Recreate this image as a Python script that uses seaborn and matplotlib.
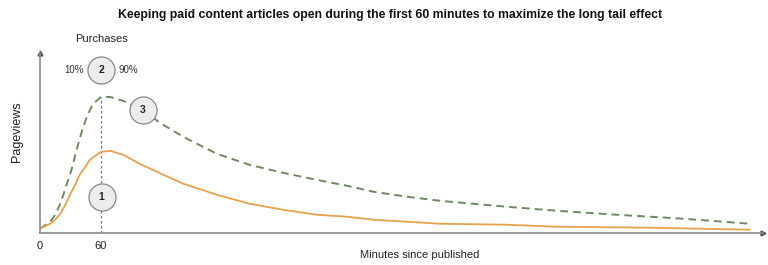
import matplotlib
matplotlib.use("Agg")
import matplotlib.pyplot as plt
import seaborn as sns
import pandas as pd

# ---- data ----
open_minutes = [0, 10, 15, 19, 23, 31, 36, 41, 46, 52, 60, 69, 82, 101, 118, 141, 174, 206, 239,
                272, 302, 328, 361, 393, 426, 459, 508, 567, 633, 698]
open_pageviews = [4, 11, 18, 27, 38, 63, 83, 101, 116, 129, 136, 136, 132, 123, 110, 96, 79, 68, 60,
                  53, 47, 41, 36, 32, 29, 26, 22, 18, 14, 9]
paid_minutes = [0, 10, 15, 20, 25, 30, 35, 39, 44, 49, 60, 69, 82, 98, 115, 141, 174, 206, 239,
                272, 302, 328, 393, 459, 508, 600, 698]
paid_pageviews = [4, 9, 13, 19, 28, 39, 49, 58, 65, 73, 81, 82, 78, 69, 61, 49, 38, 29, 23,
                  18, 16, 13, 9, 8, 6, 5, 3]
tick_values = [0, 60]
tick_labels = ["0", "60"]
circle_labels = ["1", "2", "3"]
title = "Keeping paid content articles open during the first 60 minutes to maximize the long tail effect"

sns.set_theme(style="white")
plt.rcParams["font.family"] = ["Liberation Sans", "DejaVu Sans"]

df_open = pd.DataFrame({"minutes": open_minutes, "pageviews": open_pageviews})
df_paid = pd.DataFrame({"minutes": paid_minutes, "pageviews": paid_pageviews})

fig = plt.figure(figsize=(7.68, 2.65), dpi=100)
ax = fig.add_axes([40 / 768, 1 - 232.7 / 265, (763 - 40) / 768, (232.7 - 53) / 265])

green = "#6f8a62"
orange = "#e6a24a"
axis_gray = "#8a8a8a"

sns.lineplot(data=df_open, x="minutes", y="pageviews", ax=ax, color=green, lw=1.4)
ax.lines[-1].set_dashes((4, 2.6))
sns.lineplot(data=df_paid, x="minutes", y="pageviews", ax=ax, color=orange, lw=1.3)
for ln in ax.lines:
    ln.set_solid_joinstyle("round")
    ln.set_dash_joinstyle("round")

ax.set_xlim(0, 711)
ax.set_ylim(0, 180)

# dotted marker at 60 minutes up to the open curve
peak60 = open_pageviews[open_minutes.index(60)]
ax.plot([60, 60], [0, peak60], color="#777777", lw=0.9, ls=(0, (2, 2)), zorder=1)

# spines and arrows
for s in ["top", "right"]:
    ax.spines[s].set_visible(False)
for s in ["left", "bottom"]:
    ax.spines[s].set_color(axis_gray)
    ax.spines[s].set_linewidth(1.2)
ax.plot(1, 0, ">", color="#555555", ms=3.5, transform=ax.get_yaxis_transform(), clip_on=False)
ax.plot(0, 1, "^", color="#555555", ms=3.5, transform=ax.get_xaxis_transform(), clip_on=False)

ax.set_xticks(tick_values)
ax.set_xticklabels(tick_labels, fontsize=8, color="#222222")
ax.tick_params(axis="x", length=0, pad=6)
ax.set_yticks([])
ax.set_xlabel("")
ax.set_ylabel("")

# circles with numbers
circ_pos = [(60.7, 35.4), (60, 163.4), (101, 122.7)]
for (cx, cy), lab in zip(circ_pos, circle_labels):
    ax.scatter([cx], [cy], s=380, facecolor="#ececec", edgecolor="#888888", linewidth=0.9,
               zorder=5, clip_on=False)
    ax.text(cx, cy, lab, ha="center", va="center", fontsize=7.5, fontweight="bold",
            color="#222222", zorder=6)

ax.text(33.4, 163.4, "10%", ha="center", va="center", fontsize=7, color="#333333")
ax.text(86.5, 163.4, "90%", ha="center", va="center", fontsize=7, color="#333333")
ax.text(60, 194.4, "Purchases", ha="center", va="center", fontsize=8, color="#222222",
        clip_on=False)

fig.text(390 / 768, 1 - 15 / 265, title, ha="center", va="center", fontsize=8.8,
         fontweight="bold", color="#111111")
fig.text(420 / 768, 1 - 255 / 265, "Minutes since published", ha="center", va="center",
         fontsize=8, color="#222222")
fig.text(17 / 768, 1 - 132 / 265, "Pageviews", ha="center", va="center", rotation=90,
         fontsize=9, color="#222222")

fig.savefig("out.png", dpi=100, facecolor="white")
